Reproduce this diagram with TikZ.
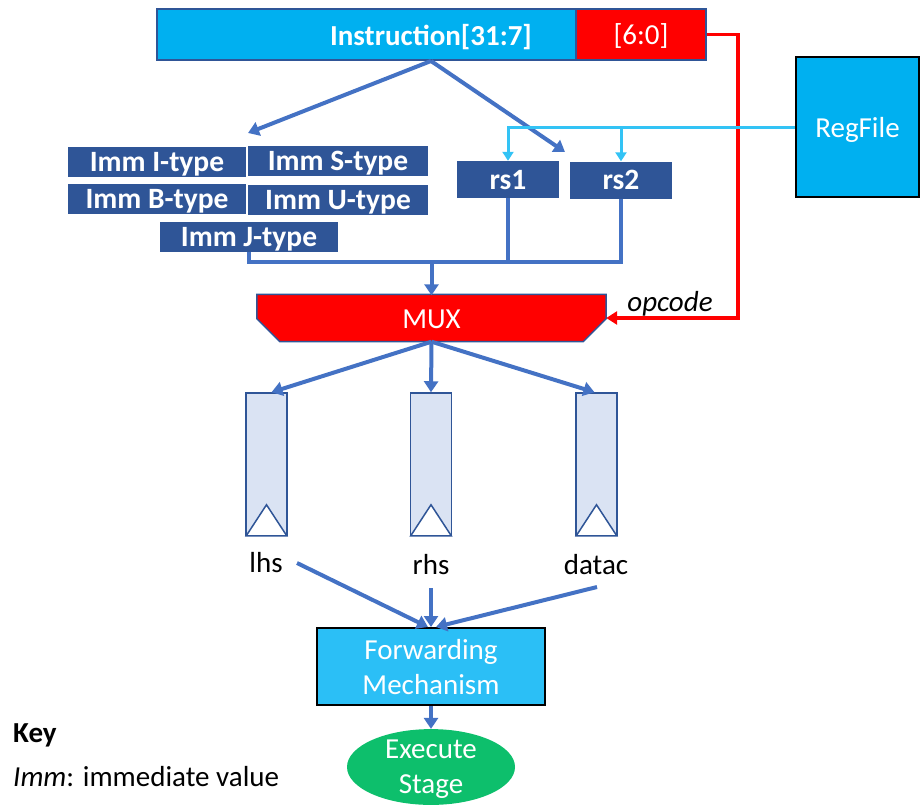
\documentclass[tikz,border=0pt]{standalone}
\usepackage{fontspec}
\setmainfont{Carlito}
\usetikzlibrary{arrows.meta,shapes.geometric,backgrounds}
\definecolor{instblue}{HTML}{00B0F0}
\definecolor{dkblue}{HTML}{2F5597}
\definecolor{arrblue}{HTML}{4472C4}
\definecolor{cyanln}{HTML}{33C3F5}
\definecolor{regfill}{HTML}{DAE3F3}
\definecolor{fwdfill}{HTML}{2BBFF6}
\definecolor{stagegreen}{HTML}{0DBF6C}
\definecolor{myred}{HTML}{FF0000}
\tikzset{
  txt/.style={font=\fontsize{29}{35}\selectfont, text depth=0pt},
  immbox/.style={font=\fontsize{29.5}{35}\selectfont\bfseries, text depth=0pt, fill=dkblue, text=white, minimum width=178pt, minimum height=30pt, inner sep=0pt},
  rsbox/.style={immbox, minimum width=102pt, minimum height=37pt},
  bluearrow/.style={draw=arrblue, line width=4pt, -{Triangle[width=14pt,length=11pt]}},
  bluebus/.style={draw=arrblue, line width=4pt},
  cyanarrow/.style={draw=cyanln, line width=3pt, -{Triangle[width=11pt,length=9pt]}},
  redarrow/.style={draw=myred, line width=3.5pt, -{Triangle[width=13pt,length=11pt]}},
  regbox/.style={draw=dkblue, line width=1.5pt, fill=regfill, minimum width=41pt, minimum height=142pt, inner sep=0pt},
  lbl/.style={txt, text=black, inner sep=0pt},
}
\begin{document}
\begin{tikzpicture}[x=1pt,y=-1pt]
\useasboundingbox (0,0) rectangle (923,811);

% instruction bar
\node[draw=dkblue, line width=2pt, fill=instblue, minimum width=419pt, minimum height=51pt, inner sep=0pt,
      label={[font=\fontsize{29}{35}\selectfont\bfseries, text depth=0pt, text=white, inner sep=0pt]center:\hspace*{129pt}Instruction[31:7]}]
      (inst) at (366.5,34.5) {};
\node[draw=dkblue, line width=2pt, fill=myred, minimum width=130pt, minimum height=51pt, inner sep=0pt, txt, text=white]
      (dec) at (641,34.5) {[6:0]};
\coordinate (split) at (431,61);
\coordinate (immtgt) at (248,133);
\coordinate (rstgt) at (565,152);

% imm boxes
\node[immbox] (it) at (157,161.5) {Imm I-type};
\node[immbox, minimum width=180pt] (st) at (338,160.5) {Imm S-type};
\node[immbox] (bt) at (157,198.5) {Imm B-type};
\node[immbox, minimum width=180pt] (ut) at (338,200) {Imm U-type};
\node[immbox] (jt) at (249,237) {Imm J-type};

% rs boxes
\node[rsbox] (rs1) at (508,179.5) {rs1};
\node[rsbox] (rs2) at (621,180) {rs2};

% regfile
\node[draw=black, line width=2.5pt, fill=instblue, minimum width=123pt, minimum height=140pt, inner sep=0pt, txt, text=white]
      (rf) at (857.5,127) {RegFile};

% MUX
\node[minimum width=349pt, minimum height=47pt, inner sep=0pt, txt, text=white] (mux) at (431.5,318) {\raisebox{-3pt}{MUX}};
\begin{scope}[on background layer]
\filldraw[fill=myred, draw=dkblue, line width=1.5pt]
  (mux.north west) -- (mux.north east) -- ([yshift=23pt]mux.south east) -- ([xshift=-23pt]mux.south east)
  -- ([xshift=23pt]mux.south west) -- ([yshift=23pt]mux.south west) -- cycle;
\end{scope}
\node[lbl, font=\fontsize{29}{35}\selectfont\itshape] (opc) at (670,301) {opcode};

% registers
\foreach \n/\x in {lreg/266.5, rreg/431, dreg/596.5}{
  \node[regbox] (\n) at (\x,464) {};
  \filldraw[fill=white, draw=dkblue, line width=1.5pt]
    ([xshift=1pt]\n.south west) -- ([yshift=31pt]\n.south) -- ([xshift=-1pt]\n.south east) -- cycle;
}
\node[lbl] (lhs) at (266,562) {lhs};
\node[lbl] (rhs) at (431,564) {rhs};
\node[lbl] (datac) at (596,564) {datac};
\coordinate (lhsout) at (297,563);
\coordinate (rhsout) at (431,588);
\coordinate (datacout) at (597,587);

% forwarding
\node[draw=black, line width=2pt, fill=fwdfill, minimum width=228pt, minimum height=77pt, inner sep=0pt, txt, text=white, align=center]
  (fwd) at (431,666.5) {Forwarding\\Mechanism};
\node[ellipse, fill=stagegreen, minimum width=168pt, minimum height=75pt, inner sep=0pt, txt, text=white, align=center]
  (exe) at (431,767) {Execute\\Stage};

% key
\node[lbl, anchor=west, font=\fontsize{29}{35}\selectfont\bfseries] (key) at (13,733) {Key};
\node[lbl, anchor=west] (keyimm) at (13,776) {\textit{Imm}: immediate value};

% connectors
\draw[bluearrow] (split) -- (immtgt);
\draw[bluearrow] (split) -- (rstgt);
\draw[redarrow] (dec.east) -- ++(31pt,0) |- (mux.east);
\draw[cyanarrow] (rf.west) -| (rs1.north);
\draw[cyanarrow] (rs2.north |- rf.west) -- (rs2.north);
\coordinate (busy) at (0,262);
\draw[bluebus] (jt.south) |- (rs2.south |- busy) -- (rs2.south);
\draw[bluebus] (rs1.south) -- (rs1.south |- busy);
\draw[bluearrow] (mux.north |- busy) -- ([yshift=-1pt]mux.north);
\draw[bluearrow] (mux.south) -- ([xshift=5pt]lreg.north);
\draw[bluearrow] (mux.south) -- (rreg.north);
\draw[bluearrow] (mux.south) -- ([xshift=-2pt]dreg.north);
\draw[bluearrow] (lhsout) -- ([xshift=-3pt]fwd.north);
\draw[bluearrow] (rhsout) -- (fwd.north);
\draw[bluearrow] (datacout) -- ([xshift=5pt]fwd.north);
\draw[bluearrow] (fwd.south) -- (exe.north);
\end{tikzpicture}
\end{document}
